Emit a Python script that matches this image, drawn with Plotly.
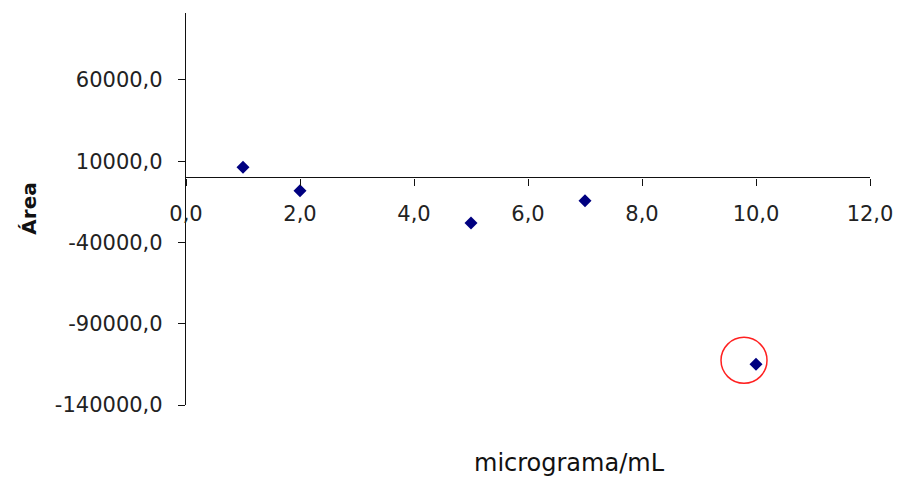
import plotly.graph_objects as go

# Data
x_vals = [1, 2, 5, 7, 10]
y_vals = [6300, -8100, -28000, -14300, -115000]

x_ticks = [0, 2, 4, 6, 8, 10, 12]
x_tick_labels = ["0,0", "2,0", "4,0", "6,0", "8,0", "10,0", "12,0"]
y_ticks = [-140000, -90000, -40000, 10000, 60000]
y_tick_labels = ["-140000,0", "-90000,0", "-40000,0", "10000,0", "60000,0"]

x_title = "micrograma/mL"
y_title = "Área"

y_range = [-140000, 101200]
x_range = [0, 12]

fig = go.Figure()
fig.add_trace(go.Scatter(
    x=x_vals, y=y_vals, mode="markers",
    marker=dict(symbol="diamond", size=10, color="#000080"),
    hoverinfo="skip", showlegend=False,
))

# highlight circle around the last point (pixel-sized, anchored to the point)
fig.add_shape(
    type="circle", xref="x", yref="y",
    xsizemode="pixel", ysizemode="pixel",
    xanchor=x_vals[-1], yanchor=y_vals[-1],
    x0=-35, x1=11, y0=-19, y1=27,
    line=dict(color="#ff2020", width=1.5),
)

font_tick = dict(family="DejaVu Sans", size=21, color="#222222")

fig.update_layout(
    width=905, height=481,
    margin=dict(l=186, r=32, t=13, b=76),
    paper_bgcolor="white", plot_bgcolor="white",
    xaxis=dict(
        range=x_range, tickvals=x_ticks, ticktext=x_tick_labels,
        showgrid=False, zeroline=False, showline=True, linecolor="#111111", linewidth=1.3,
        ticks="outside", ticklen=7, tickwidth=1.3, tickcolor="#111111",
        anchor="free", position=(0 - y_range[0]) / (y_range[1] - y_range[0]),
        tickfont=font_tick, ticklabelstandoff=10,
    ),
    yaxis=dict(
        range=y_range, tickvals=y_ticks, ticktext=y_tick_labels,
        showgrid=False, zeroline=False, showline=True, linecolor="#111111", linewidth=1.3,
        ticks="outside", ticklen=7, tickwidth=1.3, tickcolor="#111111",
        tickfont=font_tick, ticklabelstandoff=11,
    ),
    annotations=[
        dict(text=x_title, xref="paper", yref="paper", x=(571 - 186) / (905 - 186 - 32),
             y=-(463 - 405) / (405 - 13), xanchor="center", yanchor="middle",
             showarrow=False, font=dict(family="DejaVu Sans", size=24, color="#111111")),
        dict(text="<b>" + y_title + "</b>", xref="paper", yref="paper",
             x=-(186 - 28) / (905 - 186 - 32), y=0.5, textangle=-90,
             xanchor="center", yanchor="middle", showarrow=False,
             font=dict(family="DejaVu Sans", size=20, color="#111111")),
    ],
)

fig.write_html("out.html")
